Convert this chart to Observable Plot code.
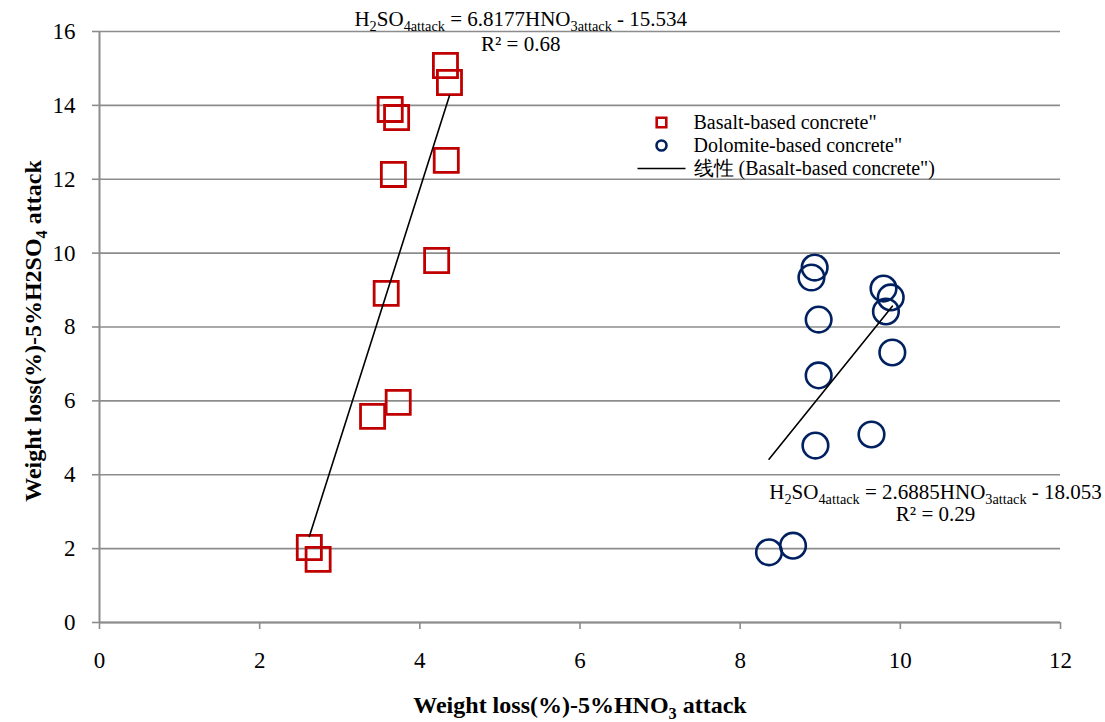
<!DOCTYPE html>
<html>
<head>
<meta charset="utf-8">
<script src="https://cdn.jsdelivr.net/npm/d3@7"></script>
<script src="https://cdn.jsdelivr.net/npm/@observablehq/plot@0.6"></script>
<style>
  html, body { margin: 0; padding: 0; background: #fff; }
  #chart { width: 1105px; height: 722px; }
  #chart svg text { font-family: 'Liberation Serif', 'Times New Roman', serif; }
</style>
</head>
<body>
<div id="chart"></div>
<script>
// ---- data ----
const seriesNames = ["Basalt-based concrete\"", "Dolomite-based concrete\""];
const trendName = "线性 (Basalt-based concrete\")";
const basaltX = [4.32, 4.37, 3.63, 3.71, 3.67, 4.33, 4.21, 3.58, 3.41, 3.73, 2.62, 2.73];
const basaltY = [15.08, 14.62, 13.89, 13.67, 12.13, 12.51, 9.80, 8.91, 5.58, 5.96, 2.03, 1.71];
const dolomiteX = [8.93, 8.89, 9.79, 9.88, 9.82, 8.98, 9.90, 8.98, 9.64, 8.94, 8.36, 8.66];
const dolomiteY = [9.61, 9.34, 9.04, 8.80, 8.42, 8.20, 7.31, 6.69, 5.09, 4.79, 1.90, 2.08];
const basaltFit = {slope: 6.8177, intercept: -15.534};
const dolomiteFit = {slope: 2.6885, intercept: -18.053};
const xTicks = [0, 2, 4, 6, 8, 10, 12];
const yTicks = [0, 2, 4, 6, 8, 10, 12, 14, 16];
const eq1Text = "H_{2}SO_{4attack} = 6.8177HNO_{3attack} - 15.534";
const eq1R2 = "R² = 0.68";
const eq2Text = "H_{2}SO_{4attack} = 2.6885HNO_{3attack} - 18.053";
const eq2R2 = "R² = 0.29";
const xTitle = "Weight loss(%)-5%HNO_{3} attack";
const yTitle = "Weight loss(%)-5%H2SO_{4} attack";

// ---- build tables ----
const basalt = basaltX.map((x, i) => ({x, y: basaltY[i]}));
const dolomite = dolomiteX.map((x, i) => ({x, y: dolomiteY[i]}));
function fitLine(xs, fit) {
  const lo = d3.min(xs), hi = d3.max(xs);
  return [lo, hi].map(x => ({x, y: fit.slope * x + fit.intercept}));
}
const basaltTrend = fitLine(basaltX, basaltFit);
const dolomiteTrend = fitLine(dolomiteX, dolomiteFit);
const legendItems = [seriesNames[0], seriesNames[1], trendName];

const FONT = "'Liberation Serif', 'Times New Roman', serif";
const RED = "#C00000", BLUE = "#002060", GRID = "#8c8c8c";
const hLine = {draw(ctx) { ctx.moveTo(-24, 0); ctx.lineTo(24, 0); }};

const plot = Plot.plot({
  width: 1105,
  height: 722,
  marginLeft: 99,
  marginRight: 45,
  marginTop: 31,
  marginBottom: 100,
  style: {fontFamily: FONT, fontSize: "21px", color: "black", background: "white"},
  x: {domain: [0, 12]},
  y: {domain: [0, 16]},
  marks: [
    Plot.gridY(yTicks, {stroke: GRID, strokeOpacity: 1, strokeWidth: 1.6}),
    Plot.axisX(xTicks, {tickSize: 7, tickPadding: 22, stroke: GRID, strokeWidth: 1.6, label: null, fontSize: 23, fontFamily: FONT, fontVariant: "normal"}),
    Plot.axisY(yTicks, {tickSize: 7, tickPadding: 17, stroke: GRID, strokeWidth: 1.6, label: null, fontSize: 23, fontFamily: FONT, fontVariant: "normal"}),
    Plot.ruleX([0], {stroke: GRID, strokeWidth: 2}),
    Plot.ruleY([0], {stroke: GRID, strokeWidth: 2}),
    Plot.dot(basalt, {x: "x", y: "y", symbol: "square", r: 13.6, stroke: RED, strokeWidth: 2.8}),
    Plot.dot(dolomite, {x: "x", y: "y", symbol: "circle", r: 12.8, stroke: BLUE, strokeWidth: 2.6}),
    Plot.line(basaltTrend, {x: "x", y: "y", stroke: "black", strokeWidth: 1.6}),
    Plot.line(dolomiteTrend, {x: "x", y: "y", stroke: "black", strokeWidth: 1.6}),
    // equations
    Plot.text([eq1Text], {x: () => 5.26, y: () => 16.33, text: d => d, fontSize: 21, fontFamily: FONT, textAnchor: "middle"}),
    Plot.text([eq1R2], {x: () => 5.26, y: () => 15.66, text: d => d, fontSize: 21, fontFamily: FONT, textAnchor: "middle"}),
    Plot.text([eq2Text], {x: () => 10.44, y: () => 3.53, text: d => d, fontSize: 21, fontFamily: FONT, textAnchor: "middle"}),
    Plot.text([eq2R2], {x: () => 10.44, y: () => 2.93, text: d => d, fontSize: 21, fontFamily: FONT, textAnchor: "middle"}),
    // legend
    Plot.dot([seriesNames[0]], {frameAnchor: "top-left", dx: 562, dy: 91, symbol: "square", r: 5.4, stroke: RED, strokeWidth: 2.6}),
    Plot.dot([seriesNames[1]], {frameAnchor: "top-left", dx: 562, dy: 114, symbol: "circle", r: 5, stroke: BLUE, strokeWidth: 2.6}),
    Plot.dot([trendName], {frameAnchor: "top-left", dx: 562, dy: 137, symbol: hLine, stroke: "black", strokeWidth: 1.6}),
    Plot.text([legendItems[0]], {frameAnchor: "top-left", dx: 594, dy: 91, text: d => d, textAnchor: "start", lineAnchor: "middle", fontSize: 20, fontFamily: FONT}),
    Plot.text([legendItems[1]], {frameAnchor: "top-left", dx: 594, dy: 114, text: d => d, textAnchor: "start", lineAnchor: "middle", fontSize: 20, fontFamily: FONT}),
    Plot.text([legendItems[2]], {frameAnchor: "top-left", dx: 594, dy: 137, text: d => d, textAnchor: "start", lineAnchor: "middle", fontSize: 20, fontFamily: FONT}),
    // axis titles
    Plot.text([xTitle], {frameAnchor: "bottom", dy: 83, text: d => d, textAnchor: "middle", lineAnchor: "middle", fontSize: 24, fontWeight: "bold", fontFamily: FONT}),
    Plot.text([yTitle], {frameAnchor: "left", dx: -66, dy: 4, rotate: -90, text: d => d, textAnchor: "middle", lineAnchor: "middle", fontSize: 24, fontWeight: "bold", fontFamily: FONT})
  ]
});

document.getElementById("chart").appendChild(plot);

// force the serif family on every text
plot.querySelectorAll("text, tspan").forEach(t => { t.style.fontFamily = FONT; });

// subscripts: convert _{...} into subscript tspans
plot.querySelectorAll("text").forEach(t => {
  const s = t.textContent;
  if (!s.includes("_{")) return;
  const fs = parseFloat(getComputedStyle(t).fontSize) || 20;
  const sub = +(fs * 0.68).toFixed(1), shift = +(fs * 0.24).toFixed(1);
  while (t.firstChild) t.removeChild(t.firstChild);
  const re = /_\{([^}]*)\}/g;
  let last = 0, m, shifted = false;
  const add = (txt, isSub) => {
    if (!txt) return;
    const sp = document.createElementNS("http://www.w3.org/2000/svg", "tspan");
    sp.textContent = txt;
    sp.style.fontFamily = FONT;
    if (isSub) { sp.setAttribute("font-size", sub); sp.setAttribute("dy", shift); shifted = true; }
    else if (shifted) { sp.setAttribute("dy", -shift); shifted = false; }
    t.appendChild(sp);
  };
  while ((m = re.exec(s))) {
    add(s.slice(last, m.index), false);
    add(m[1], true);
    last = m.index + m[0].length;
  }
  add(s.slice(last), false);
});
</script>
</body>
</html>
